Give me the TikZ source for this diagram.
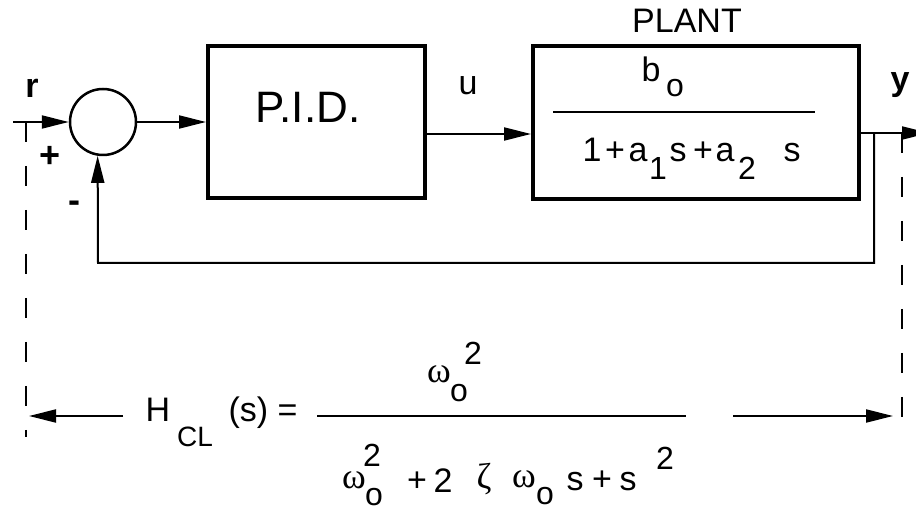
\documentclass[tikz,border=0pt]{standalone}
\usepackage{fontspec}
\setmainfont{Liberation Sans}
\newfontfamily\grk{Liberation Serif}
\usetikzlibrary{arrows.meta}
\begin{document}
\begin{tikzpicture}[x=1pt,y=-1pt,
  conn/.style={line width=2pt},
  arr/.style={conn,-{Triangle[length=27pt,width=13pt]}},
  blockbox/.style={draw,line width=4pt,rectangle,inner sep=0},
  t/.style={inner sep=0,anchor=base,font=\fontsize{34}{40}\selectfont},
  ts/.style={inner sep=0,anchor=base,font=\fontsize{32}{38}\selectfont},
  tg/.style={inner sep=0,anchor=base,font=\grk\fontsize{36}{42}\selectfont},
  tb/.style={inner sep=0,anchor=base,font=\bfseries\fontsize{34}{40}\selectfont},
  dsh/.style={line width=2pt,dash pattern=on 20pt off 24pt},
  fracline/.style={line width=2pt}]
\useasboundingbox (0,0) rectangle (916,510);

% blocks
\node[circle,draw,line width=2.5pt,minimum size=66pt,inner sep=0] (sum) at (103,122) {};
\node[blockbox,minimum width=217pt,minimum height=152pt] (pid) at (316.5,122) {};
\node[blockbox,minimum width=326pt,minimum height=153pt] (plant) at (696,122.5) {};

% coordinates
\coordinate (rin) at (13,122);
\coordinate (ul) at (0,134);
\coordinate (yout) at (929,133);
\coordinate (tap) at (874,133);
\coordinate (fbl) at (98,263);
\coordinate (dl0) at (26,122);
\coordinate (dl1) at (26,437);
\coordinate (dr0) at (902,133);
\coordinate (dr1) at (902,418);
\coordinate (la0) at (123,416);
\coordinate (la1) at (29,416);
\coordinate (ra0) at (733,416);
\coordinate (ra1) at (893,416);
\coordinate (pf0) at (553,112);
\coordinate (pf1) at (815,112);
\coordinate (hf0) at (317,416);
\coordinate (hf1) at (686,416);

% connectors
\draw[arr] (rin) -- (sum.west);
\draw[arr] (sum.east) -- (pid.west);
\draw[arr] (pid.east |- ul) -- (plant.west |- ul);
\draw[arr] (plant.east |- yout) -- (yout);
\draw[arr] (tap) |- (fbl) -- (sum.-99);
\draw[dsh] (dl0) -- (dl1);
\draw[dsh] (dr0) -- (dr1);
\draw[arr] (la0) -- (la1);
\draw[arr] (ra0) -- (ra1);
\draw[fracline] (pf0) -- (pf1);
\draw[fracline] (hf0) -- (hf1);

% labels
\node[tb] (rlab) at (32,98) {r};
\node[tb] (ylab) at (900,91) {y};
\node[inner sep=0,font=\bfseries\fontsize{36}{42}\selectfont] (plus) at (50,157) {+};
\node[inner sep=0,font=\bfseries\fontsize{36}{42}\selectfont] (minus) at (74,207) {-};
\node[t] (ulab) at (468,95) {u};
\node[inner sep=0,anchor=base,font=\fontsize{44}{52}\selectfont] (pidtxt) at (308,123) {P.I.D.};
\node[t] (plantlab) at (687,33) {PLANT};

% plant transfer function
\node[t] (pb) at (651,82) {b};
\node[ts] (pbo) at (675,97) {o};
\node[t] (d1) at (592,162) {1};
\node[t] (dp1) at (615,162) {+};
\node[t] (da1) at (638,162) {a};
\node[ts] (da1s) at (658,180) {1};
\node[t] (ds1) at (678,162) {s};
\node[t] (dp2) at (703,162) {+};
\node[t] (da2) at (725,162) {a};
\node[ts] (da2s) at (747,180) {2};
\node[t] (ds2) at (792,162) {s};

% closed loop formula
\node[t] (hH) at (158,422) {H};
\node[inner sep=0,anchor=base,font=\fontsize{28}{32}\selectfont] (hCL) at (195,447) {CL};
\node[t] (hs) at (263,422) {(s) =};
\node[tg] (nw) at (439,383) {ω};
\node[ts] (nwo) at (459,402) {o};
\node[ts] (nw2) at (473,365) {2};
\node[tg] (dw) at (354,488) {ω};
\node[ts] (dw2) at (372,467) {2};
\node[ts] (dwo) at (374,505) {o};
\node[t] (dplus) at (417,491) {+};
\node[t] (dtwo) at (443,493) {2};
\node[tg] (dz) at (484,488) {ζ};
\node[tg] (dw3) at (524,487) {ω};
\node[ts] (dw3o) at (545,504) {o};
\node[t] (dsa) at (575,490) {s};
\node[t] (dplus2) at (602,490) {+};
\node[t] (dsb) at (628,490) {s};
\node[ts] (ds2sq) at (665,470) {2};
\end{tikzpicture}
\end{document}
